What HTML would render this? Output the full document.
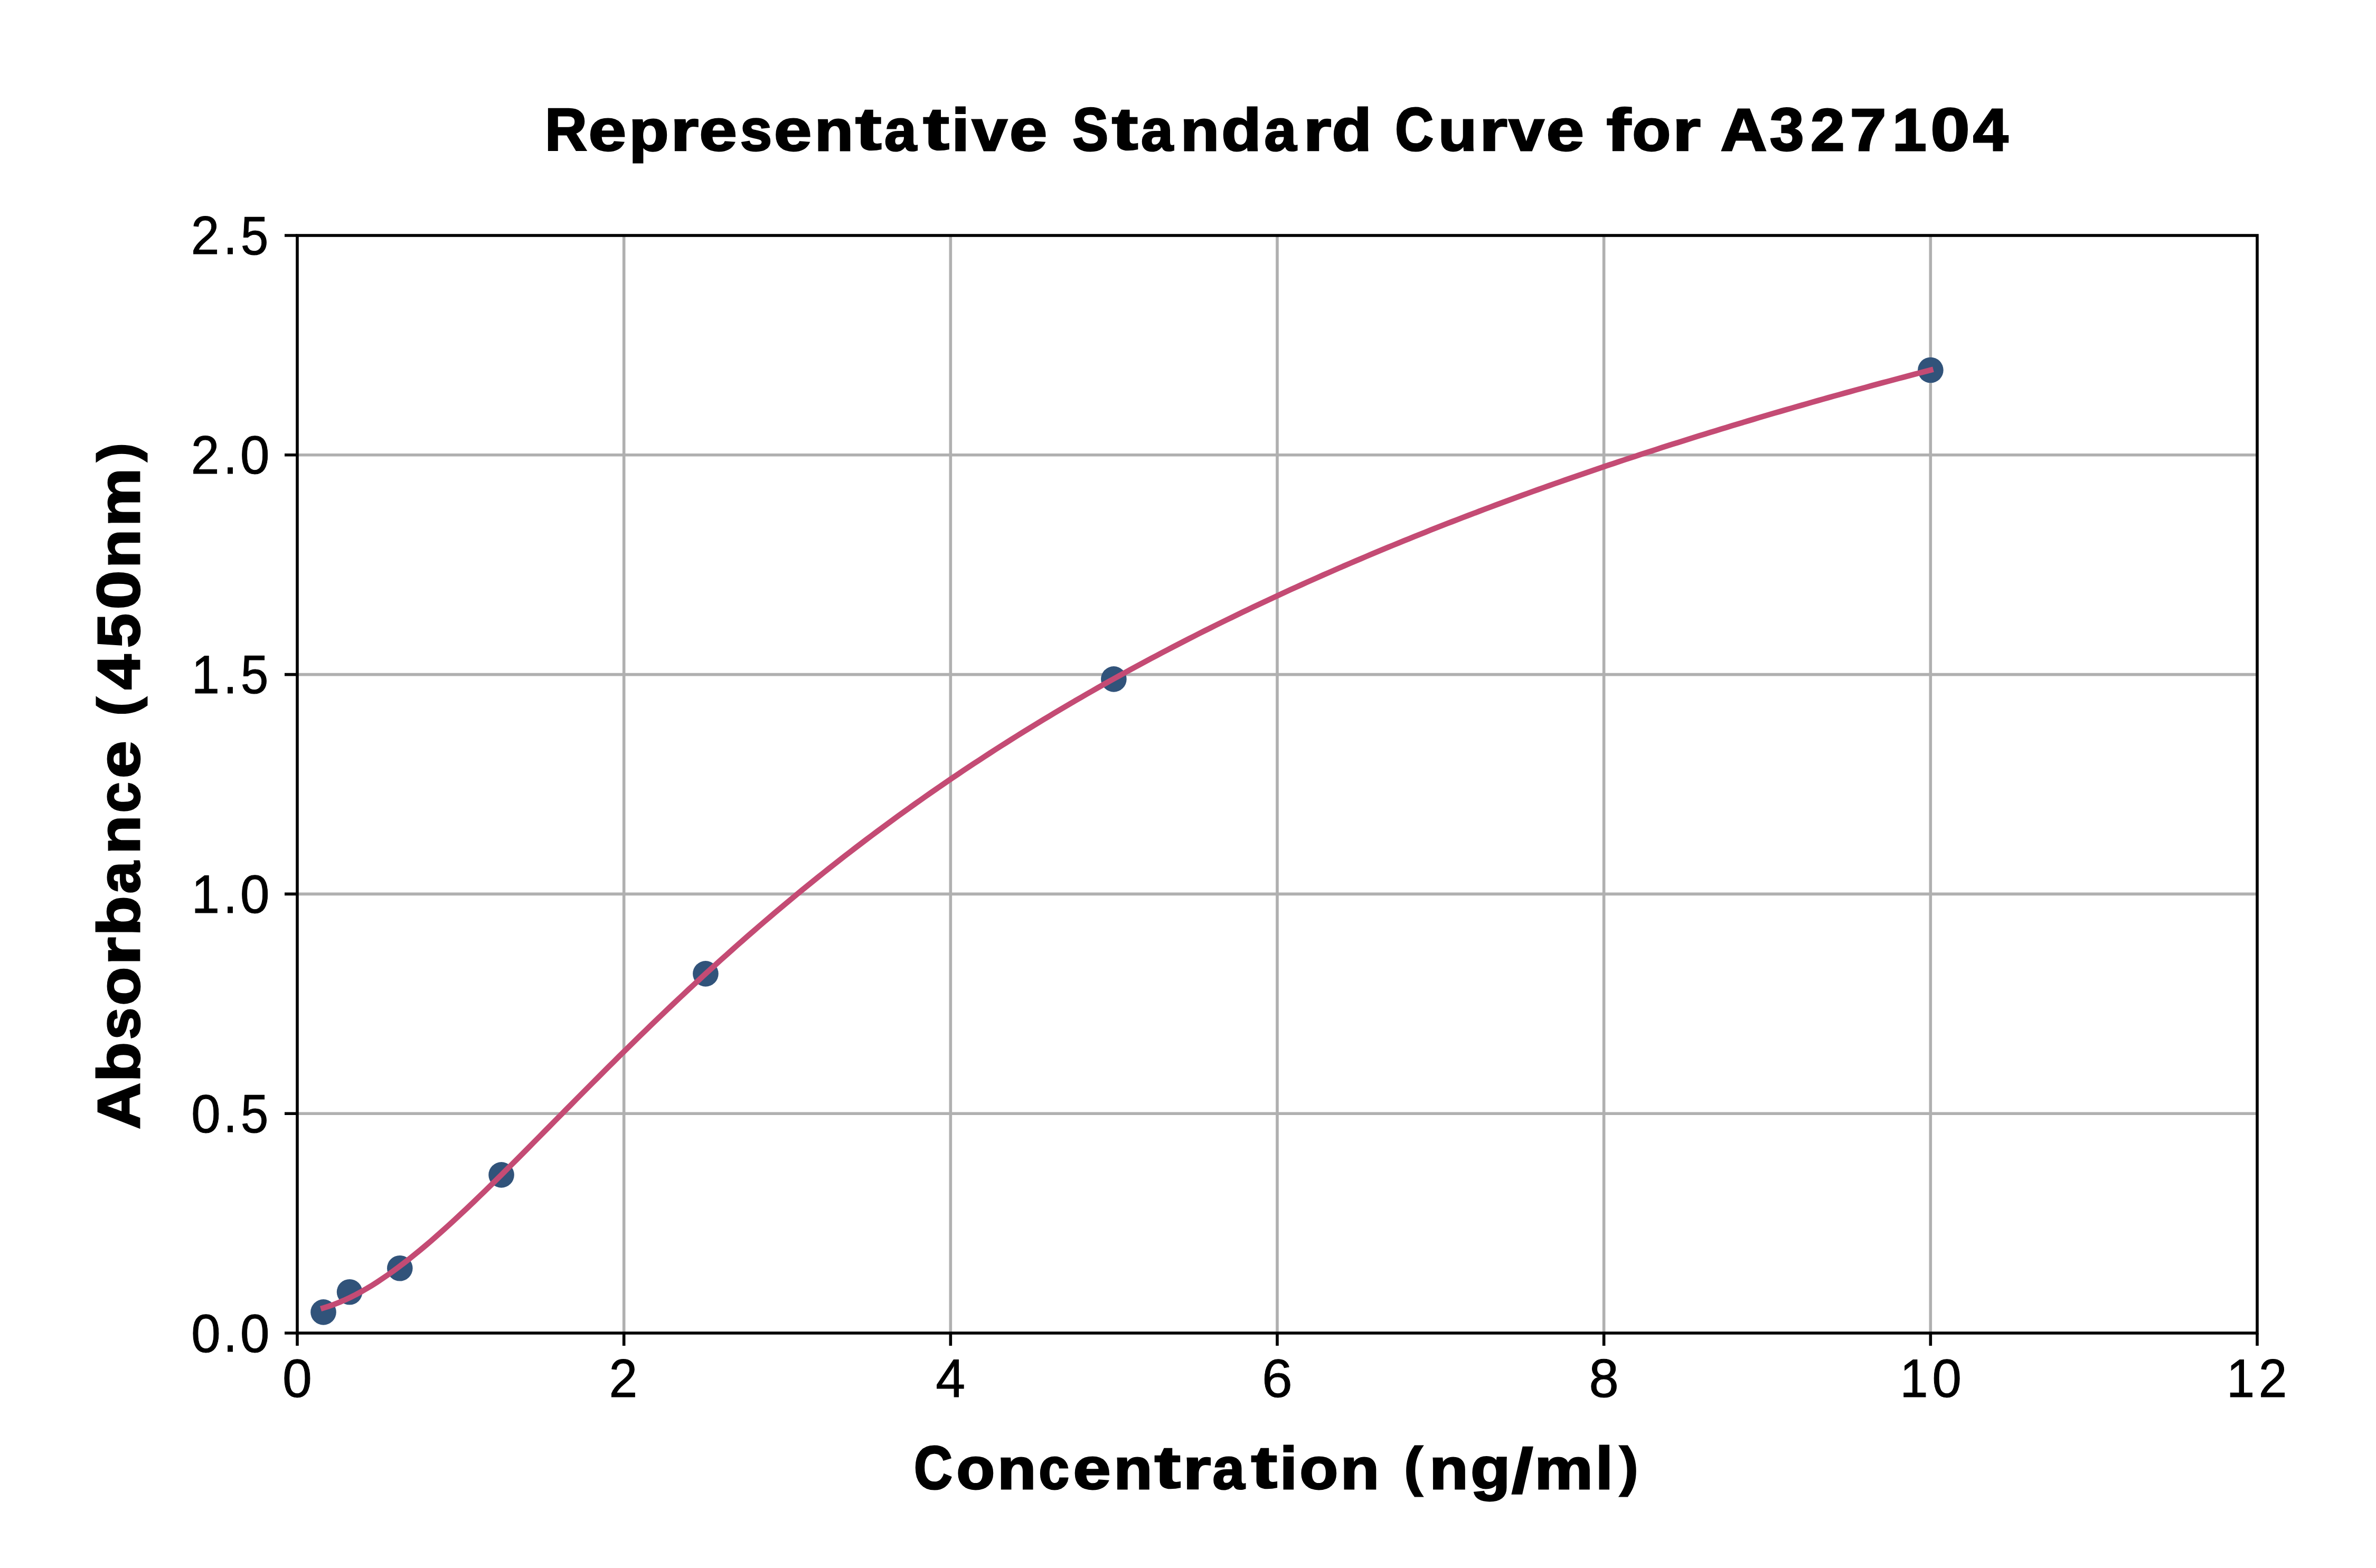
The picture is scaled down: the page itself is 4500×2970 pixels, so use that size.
<!DOCTYPE html><html><head><meta charset="utf-8"><style>html,body{margin:0;padding:0;background:#fff;}body{width:4500px;height:2970px;overflow:hidden;}svg{display:block;}text{font-family:"Liberation Sans",sans-serif;font-size:100px;fill:#000;}.b text{font-weight:bold;}</style></head><body>
<svg width="4500" height="2970" viewBox="0 0 4500 2970">
<rect x="0" y="0" width="4500" height="2970" fill="#fff"/>
<path d="M1181.67 446.00V2525.00M1800.33 446.00V2525.00M2419.00 446.00V2525.00M3037.67 446.00V2525.00M3656.33 446.00V2525.00M563.00 2109.20H4275.00M563.00 1693.40H4275.00M563.00 1277.60H4275.00M563.00 861.80H4275.00" stroke="#b0b0b0" stroke-width="5.60" fill="none"/>
<circle cx="612.50" cy="2485.40" r="24.30" fill="#31537a"/>
<circle cx="662.10" cy="2447.30" r="24.30" fill="#31537a"/>
<circle cx="757.30" cy="2402.30" r="24.30" fill="#31537a"/>
<circle cx="949.55" cy="2225.40" r="24.30" fill="#31537a"/>
<circle cx="1336.40" cy="1844.40" r="24.30" fill="#31537a"/>
<circle cx="2109.40" cy="1286.40" r="24.30" fill="#31537a"/>
<circle cx="3656.40" cy="701.00" r="24.30" fill="#31537a"/>
<path d="M612.50 2477.41 L622.68 2474.25 L632.86 2470.66 L643.04 2466.66 L653.22 2462.25 L663.40 2457.47 L673.58 2452.32 L683.76 2446.83 L693.94 2441.02 L704.12 2434.88 L714.30 2428.45 L724.48 2421.74 L734.66 2414.75 L744.84 2407.51 L755.02 2400.02 L765.20 2392.30 L775.38 2384.36 L785.56 2376.22 L795.74 2367.88 L805.93 2359.35 L816.11 2350.66 L826.29 2341.80 L836.47 2332.79 L846.65 2323.65 L856.83 2314.37 L867.01 2304.97 L877.19 2295.45 L887.37 2285.84 L897.55 2276.12 L907.73 2266.33 L917.91 2256.45 L928.09 2246.50 L938.27 2236.49 L948.45 2226.42 L958.63 2216.30 L968.81 2206.13 L978.99 2195.93 L989.17 2185.69 L999.35 2175.43 L1009.53 2165.15 L1019.71 2154.85 L1029.89 2144.54 L1040.07 2134.22 L1050.25 2123.90 L1060.43 2113.58 L1070.61 2103.26 L1080.79 2092.96 L1090.97 2082.66 L1101.15 2072.38 L1111.33 2062.12 L1121.51 2051.88 L1131.69 2041.67 L1141.87 2031.48 L1152.05 2021.32 L1162.23 2011.19 L1172.41 2001.10 L1182.59 1991.04 L1192.78 1981.02 L1202.96 1971.04 L1213.14 1961.10 L1223.32 1951.20 L1233.50 1941.35 L1243.68 1931.54 L1253.86 1921.78 L1264.04 1912.06 L1274.22 1902.40 L1284.40 1892.78 L1294.58 1883.21 L1304.76 1873.69 L1314.94 1864.23 L1325.12 1854.82 L1335.30 1845.46 L1345.48 1836.15 L1355.66 1826.90 L1365.84 1817.70 L1376.02 1808.56 L1386.20 1799.47 L1396.38 1790.44 L1406.56 1781.46 L1416.74 1772.54 L1426.92 1763.67 L1437.10 1754.86 L1447.28 1746.11 L1457.46 1737.41 L1467.64 1728.76 L1477.82 1720.18 L1488.00 1711.65 L1498.18 1703.17 L1508.36 1694.75 L1518.54 1686.39 L1528.72 1678.08 L1538.90 1669.82 L1549.08 1661.62 L1559.26 1653.48 L1569.45 1645.39 L1579.63 1637.35 L1589.81 1629.37 L1599.99 1621.44 L1610.17 1613.57 L1620.35 1605.75 L1630.53 1597.98 L1640.71 1590.26 L1650.89 1582.60 L1661.07 1574.99 L1671.25 1567.43 L1681.43 1559.92 L1691.61 1552.46 L1701.79 1545.05 L1711.97 1537.70 L1722.15 1530.39 L1732.33 1523.13 L1742.51 1515.92 L1752.69 1508.77 L1762.87 1501.65 L1773.05 1494.59 L1783.23 1487.58 L1793.41 1480.61 L1803.59 1473.69 L1813.77 1466.81 L1823.95 1459.98 L1834.13 1453.20 L1844.31 1446.46 L1854.49 1439.77 L1864.67 1433.12 L1874.85 1426.52 L1885.03 1419.96 L1895.21 1413.44 L1905.39 1406.97 L1915.57 1400.54 L1925.75 1394.15 L1935.93 1387.81 L1946.12 1381.50 L1956.30 1375.24 L1966.48 1369.02 L1976.66 1362.84 L1986.84 1356.70 L1997.02 1350.60 L2007.20 1344.53 L2017.38 1338.51 L2027.56 1332.53 L2037.74 1326.58 L2047.92 1320.68 L2058.10 1314.81 L2068.28 1308.97 L2078.46 1303.18 L2088.64 1297.42 L2098.82 1291.70 L2109.00 1286.01 L2119.18 1280.36 L2129.36 1274.75 L2139.54 1269.17 L2149.72 1263.62 L2159.90 1258.11 L2170.08 1252.64 L2180.26 1247.19 L2190.44 1241.78 L2200.62 1236.41 L2210.80 1231.06 L2220.98 1225.75 L2231.16 1220.48 L2241.34 1215.23 L2251.52 1210.02 L2261.70 1204.83 L2271.88 1199.68 L2282.06 1194.56 L2292.24 1189.47 L2302.42 1184.41 L2312.60 1179.38 L2322.78 1174.38 L2332.97 1169.41 L2343.15 1164.47 L2353.33 1159.55 L2363.51 1154.67 L2373.69 1149.81 L2383.87 1144.99 L2394.05 1140.19 L2404.23 1135.41 L2414.41 1130.67 L2424.59 1125.95 L2434.77 1121.26 L2444.95 1116.60 L2455.13 1111.96 L2465.31 1107.35 L2475.49 1102.77 L2485.67 1098.21 L2495.85 1093.67 L2506.03 1089.17 L2516.21 1084.68 L2526.39 1080.22 L2536.57 1075.79 L2546.75 1071.38 L2556.93 1067.00 L2567.11 1062.63 L2577.29 1058.30 L2587.47 1053.98 L2597.65 1049.69 L2607.83 1045.43 L2618.01 1041.18 L2628.19 1036.96 L2638.37 1032.76 L2648.55 1028.59 L2658.73 1024.43 L2668.91 1020.30 L2679.09 1016.19 L2689.27 1012.10 L2699.45 1008.03 L2709.64 1003.99 L2719.82 999.96 L2730.00 995.96 L2740.18 991.98 L2750.36 988.01 L2760.54 984.07 L2770.72 980.15 L2780.90 976.25 L2791.08 972.37 L2801.26 968.50 L2811.44 964.66 L2821.62 960.84 L2831.80 957.04 L2841.98 953.25 L2852.16 949.49 L2862.34 945.74 L2872.52 942.01 L2882.70 938.30 L2892.88 934.61 L2903.06 930.93 L2913.24 927.28 L2923.42 923.64 L2933.60 920.02 L2943.78 916.42 L2953.96 912.84 L2964.14 909.27 L2974.32 905.72 L2984.50 902.19 L2994.68 898.67 L3004.86 895.17 L3015.04 891.69 L3025.22 888.22 L3035.40 884.77 L3045.58 881.34 L3055.76 877.92 L3065.94 874.52 L3076.12 871.13 L3086.31 867.76 L3096.49 864.41 L3106.67 861.07 L3116.85 857.75 L3127.03 854.44 L3137.21 851.15 L3147.39 847.87 L3157.57 844.61 L3167.75 841.36 L3177.93 838.13 L3188.11 834.91 L3198.29 831.71 L3208.47 828.52 L3218.65 825.34 L3228.83 822.18 L3239.01 819.03 L3249.19 815.90 L3259.37 812.78 L3269.55 809.68 L3279.73 806.58 L3289.91 803.51 L3300.09 800.44 L3310.27 797.39 L3320.45 794.35 L3330.63 791.33 L3340.81 788.31 L3350.99 785.32 L3361.17 782.33 L3371.35 779.36 L3381.53 776.40 L3391.71 773.45 L3401.89 770.51 L3412.07 767.59 L3422.25 764.68 L3432.43 761.78 L3442.61 758.90 L3452.79 756.02 L3462.97 753.16 L3473.16 750.31 L3483.34 747.47 L3493.52 744.65 L3503.70 741.83 L3513.88 739.03 L3524.06 736.24 L3534.24 733.46 L3544.42 730.69 L3554.60 727.93 L3564.78 725.18 L3574.96 722.45 L3585.14 719.72 L3595.32 717.01 L3605.50 714.31 L3615.68 711.62 L3625.86 708.94 L3636.04 706.27 L3646.22 703.61 L3656.40 700.96" stroke="#c44b74" stroke-width="10.50" fill="none" stroke-linecap="square" stroke-linejoin="round"/>
<rect x="563.00" y="446.00" width="3712.00" height="2079.00" fill="none" stroke="#000" stroke-width="5.60"/>
<path d="M563.00 2525.00V2549.00M1181.67 2525.00V2549.00M1800.33 2525.00V2549.00M2419.00 2525.00V2549.00M3037.67 2525.00V2549.00M3656.33 2525.00V2549.00M4275.00 2525.00V2549.00M539.00 2525.00H563.00M539.00 2109.20H563.00M539.00 1693.40H563.00M539.00 1277.60H563.00M539.00 861.80H563.00M539.00 446.00H563.00" stroke="#000" stroke-width="5.60" fill="none"/>
<g>
<text transform="matrix(1.00416 0 0 1.02399 535.07 2646.34)" stroke="#000" stroke-width="0.99">0</text>
<text transform="matrix(0.96519 0 0 1.01916 1153.51 2646.00)" stroke="#000" stroke-width="1.01">2</text>
<text transform="matrix(1.00444 0 0 1.01560 1772.36 2646.00)" stroke="#000" stroke-width="0.99">4</text>
<text transform="matrix(1.03908 0 0 1.02399 2390.08 2646.34)" stroke="#000" stroke-width="0.97">6</text>
<text transform="matrix(1.01298 0 0 1.02399 3009.49 2646.34)" stroke="#000" stroke-width="0.98">8</text>
<text transform="matrix(0.95577 0 0 1.01560 3598.41 2646.00)" stroke="#000" stroke-width="1.01">1</text>
<text transform="matrix(1.00416 0 0 1.02399 3659.33 2646.34)" stroke="#000" stroke-width="0.99">0</text>
<text transform="matrix(0.95577 0 0 1.01560 4217.08 2646.00)" stroke="#000" stroke-width="1.01">1</text>
<text transform="matrix(0.96519 0 0 1.01916 4277.77 2646.00)" stroke="#000" stroke-width="1.01">2</text>
<text transform="matrix(1.00416 0 0 1.02399 361.89 2560.54)" stroke="#000" stroke-width="0.99">0</text>
<text transform="matrix(0.93892 0 0 1.03320 423.10 2560.20)" stroke="#000" stroke-width="1.02">.</text>
<text transform="matrix(1.00416 0 0 1.02399 454.65 2560.54)" stroke="#000" stroke-width="0.99">0</text>
<text transform="matrix(1.00416 0 0 1.02399 361.89 2144.74)" stroke="#000" stroke-width="0.99">0</text>
<text transform="matrix(0.93892 0 0 1.03320 423.10 2144.40)" stroke="#000" stroke-width="1.02">.</text>
<text transform="matrix(0.94700 0 0 1.02055 455.84 2144.74)" stroke="#000" stroke-width="1.02">5</text>
<text transform="matrix(0.95577 0 0 1.01560 362.82 1728.60)" stroke="#000" stroke-width="1.01">1</text>
<text transform="matrix(0.93892 0 0 1.03320 423.10 1728.60)" stroke="#000" stroke-width="1.02">.</text>
<text transform="matrix(1.00416 0 0 1.02399 454.65 1728.94)" stroke="#000" stroke-width="0.99">0</text>
<text transform="matrix(0.95577 0 0 1.01560 362.82 1312.80)" stroke="#000" stroke-width="1.01">1</text>
<text transform="matrix(0.93892 0 0 1.03320 423.10 1312.80)" stroke="#000" stroke-width="1.02">.</text>
<text transform="matrix(0.94700 0 0 1.02055 455.84 1313.14)" stroke="#000" stroke-width="1.02">5</text>
<text transform="matrix(0.96519 0 0 1.01916 361.66 897.00)" stroke="#000" stroke-width="1.01">2</text>
<text transform="matrix(0.93892 0 0 1.03320 423.10 897.00)" stroke="#000" stroke-width="1.02">.</text>
<text transform="matrix(1.00416 0 0 1.02399 454.65 897.34)" stroke="#000" stroke-width="0.99">0</text>
<text transform="matrix(0.96519 0 0 1.01916 361.66 481.20)" stroke="#000" stroke-width="1.01">2</text>
<text transform="matrix(0.93892 0 0 1.03320 423.10 481.20)" stroke="#000" stroke-width="1.02">.</text>
<text transform="matrix(0.94700 0 0 1.02055 455.84 481.54)" stroke="#000" stroke-width="1.02">5</text>
</g><g class="b">
<text transform="matrix(1.10584 0 0 1.13371 1032.01 284.50)" stroke="#000" stroke-width="2.68">R</text>
<text transform="matrix(1.28823 0 0 1.10907 1114.50 284.95)" stroke="#000" stroke-width="2.51">e</text>
<text transform="matrix(1.23455 0 0 1.10070 1191.29 284.72)" stroke="#000" stroke-width="2.57">p</text>
<text transform="matrix(1.36723 0 0 1.09873 1269.95 284.50)" stroke="#000" stroke-width="2.45">r</text>
<text transform="matrix(1.28823 0 0 1.10907 1324.19 284.95)" stroke="#000" stroke-width="2.51">e</text>
<text transform="matrix(1.08564 0 0 1.10705 1401.77 284.95)" stroke="#000" stroke-width="2.74">s</text>
<text transform="matrix(1.28823 0 0 1.10907 1465.69 284.95)" stroke="#000" stroke-width="2.51">e</text>
<text transform="matrix(1.20312 0 0 1.09873 1542.68 284.50)" stroke="#000" stroke-width="2.61">n</text>
<text transform="matrix(1.49225 0 0 1.13463 1620.04 283.48)" stroke="#000" stroke-width="2.31">t</text>
<text transform="matrix(1.09445 0 0 1.10907 1675.11 284.95)" stroke="#000" stroke-width="2.72">a</text>
<text transform="matrix(1.49225 0 0 1.13463 1748.14 283.48)" stroke="#000" stroke-width="2.31">t</text>
<text transform="matrix(1.20031 0 0 1.12336 1802.53 284.50)" stroke="#000" stroke-width="2.58">i</text>
<text transform="matrix(1.20639 0 0 1.09426 1840.87 284.50)" stroke="#000" stroke-width="2.61">v</text>
<text transform="matrix(1.28823 0 0 1.10907 1911.86 284.95)" stroke="#000" stroke-width="2.51">e</text>
<text transform="matrix(1.01650 0 0 1.14406 2031.20 284.91)" stroke="#000" stroke-width="2.78">S</text>
<text transform="matrix(1.49225 0 0 1.13463 2105.83 283.48)" stroke="#000" stroke-width="2.31">t</text>
<text transform="matrix(1.09445 0 0 1.10907 2160.89 284.95)" stroke="#000" stroke-width="2.72">a</text>
<text transform="matrix(1.20312 0 0 1.09873 2235.66 284.50)" stroke="#000" stroke-width="2.61">n</text>
<text transform="matrix(1.23455 0 0 1.12924 2313.31 284.93)" stroke="#000" stroke-width="2.54">d</text>
<text transform="matrix(1.09445 0 0 1.10907 2394.51 284.95)" stroke="#000" stroke-width="2.72">a</text>
<text transform="matrix(1.36723 0 0 1.09873 2468.19 284.50)" stroke="#000" stroke-width="2.45">r</text>
<text transform="matrix(1.23455 0 0 1.12924 2522.62 284.93)" stroke="#000" stroke-width="2.54">d</text>
<text transform="matrix(1.00746 0 0 1.14406 2642.32 284.91)" stroke="#000" stroke-width="2.79">C</text>
<text transform="matrix(1.20312 0 0 1.10284 2723.65 284.95)" stroke="#000" stroke-width="2.60">u</text>
<text transform="matrix(1.36723 0 0 1.09873 2801.85 284.50)" stroke="#000" stroke-width="2.45">r</text>
<text transform="matrix(1.20639 0 0 1.09426 2857.52 284.50)" stroke="#000" stroke-width="2.61">v</text>
<text transform="matrix(1.28823 0 0 1.10907 2928.52 284.95)" stroke="#000" stroke-width="2.51">e</text>
<text transform="matrix(1.39062 0 0 1.12336 3042.55 284.50)" stroke="#000" stroke-width="2.40">f</text>
<text transform="matrix(1.19657 0 0 1.10907 3091.25 284.95)" stroke="#000" stroke-width="2.60">o</text>
<text transform="matrix(1.36723 0 0 1.09873 3167.79 284.50)" stroke="#000" stroke-width="2.45">r</text>
<text transform="matrix(1.22039 0 0 1.13371 3258.46 284.50)" stroke="#000" stroke-width="2.55">A</text>
<text transform="matrix(1.16699 0 0 1.14244 3351.71 284.80)" stroke="#000" stroke-width="2.60">3</text>
<text transform="matrix(1.16192 0 0 1.13816 3428.97 284.50)" stroke="#000" stroke-width="2.61">2</text>
<text transform="matrix(1.23666 0 0 1.13371 3503.69 284.50)" stroke="#000" stroke-width="2.53">7</text>
<text transform="matrix(1.16367 0 0 1.13371 3584.10 284.50)" stroke="#000" stroke-width="2.61">1</text>
<text transform="matrix(1.34034 0 0 1.14406 3656.16 284.91)" stroke="#000" stroke-width="2.42">0</text>
<text transform="matrix(1.19816 0 0 1.13371 3736.70 284.50)" stroke="#000" stroke-width="2.57">4</text>
<text transform="matrix(1.00746 0 0 1.14406 1731.05 2819.91)" stroke="#000" stroke-width="2.79">C</text>
<text transform="matrix(1.19657 0 0 1.10907 1811.28 2819.95)" stroke="#000" stroke-width="2.60">o</text>
<text transform="matrix(1.20312 0 0 1.09873 1888.89 2819.50)" stroke="#000" stroke-width="2.61">n</text>
<text transform="matrix(1.03824 0 0 1.10907 1967.33 2819.95)" stroke="#000" stroke-width="2.80">c</text>
<text transform="matrix(1.28823 0 0 1.10907 2032.22 2819.95)" stroke="#000" stroke-width="2.51">e</text>
<text transform="matrix(1.20312 0 0 1.09873 2109.22 2819.50)" stroke="#000" stroke-width="2.61">n</text>
<text transform="matrix(1.49225 0 0 1.13463 2186.58 2818.48)" stroke="#000" stroke-width="2.31">t</text>
<text transform="matrix(1.36723 0 0 1.09873 2240.35 2819.50)" stroke="#000" stroke-width="2.45">r</text>
<text transform="matrix(1.09445 0 0 1.10907 2296.44 2819.95)" stroke="#000" stroke-width="2.72">a</text>
<text transform="matrix(1.49225 0 0 1.13463 2369.47 2818.48)" stroke="#000" stroke-width="2.31">t</text>
<text transform="matrix(1.20031 0 0 1.12336 2423.86 2819.50)" stroke="#000" stroke-width="2.58">i</text>
<text transform="matrix(1.19657 0 0 1.10907 2461.13 2819.95)" stroke="#000" stroke-width="2.60">o</text>
<text transform="matrix(1.20312 0 0 1.09873 2538.74 2819.50)" stroke="#000" stroke-width="2.61">n</text>
<text transform="matrix(1.04018 0 0 1.02893 2659.49 2812.76)" stroke="#000" stroke-width="2.90">(</text>
<text transform="matrix(1.20312 0 0 1.09873 2707.31 2819.50)" stroke="#000" stroke-width="2.61">n</text>
<text transform="matrix(1.23701 0 0 1.10666 2784.94 2820.04)" stroke="#000" stroke-width="2.56">g</text>
<text transform="matrix(1.45563 0 0 1.18567 2863.09 2827.46)" stroke="#000" stroke-width="2.28">/</text>
<text transform="matrix(1.24542 0 0 1.09873 2906.13 2819.50)" stroke="#000" stroke-width="2.56">m</text>
<text transform="matrix(1.20031 0 0 1.12336 3021.84 2819.50)" stroke="#000" stroke-width="2.58">l</text>
<text transform="matrix(1.04018 0 0 1.02893 3067.78 2812.76)" stroke="#000" stroke-width="2.90">)</text>
<g transform="translate(265.50 1485.60) rotate(-90)">
<text transform="matrix(1.22039 0 0 1.13371 -653.34 -1.50)" stroke="#000" stroke-width="2.55">A</text>
<text transform="matrix(1.23455 0 0 1.12924 -563.66 -1.07)" stroke="#000" stroke-width="2.54">b</text>
<text transform="matrix(1.08564 0 0 1.10705 -483.34 -1.05)" stroke="#000" stroke-width="2.74">s</text>
<text transform="matrix(1.19657 0 0 1.10907 -419.07 -1.05)" stroke="#000" stroke-width="2.60">o</text>
<text transform="matrix(1.36723 0 0 1.09873 -342.54 -1.50)" stroke="#000" stroke-width="2.45">r</text>
<text transform="matrix(1.23455 0 0 1.12924 -286.86 -1.07)" stroke="#000" stroke-width="2.54">b</text>
<text transform="matrix(1.09445 0 0 1.10907 -206.91 -1.05)" stroke="#000" stroke-width="2.72">a</text>
<text transform="matrix(1.20312 0 0 1.09873 -132.14 -1.50)" stroke="#000" stroke-width="2.61">n</text>
<text transform="matrix(1.03824 0 0 1.10907 -53.70 -1.05)" stroke="#000" stroke-width="2.80">c</text>
<text transform="matrix(1.28823 0 0 1.10907 11.18 -1.05)" stroke="#000" stroke-width="2.51">e</text>
<text transform="matrix(1.04018 0 0 1.02893 129.82 -8.24)" stroke="#000" stroke-width="2.90">(</text>
<text transform="matrix(1.19816 0 0 1.13371 179.45 -1.50)" stroke="#000" stroke-width="2.57">4</text>
<text transform="matrix(1.16699 0 0 1.13975 258.50 -1.08)" stroke="#000" stroke-width="2.60">5</text>
<text transform="matrix(1.34034 0 0 1.14406 330.84 -1.09)" stroke="#000" stroke-width="2.42">0</text>
<text transform="matrix(1.20312 0 0 1.09873 409.57 -1.50)" stroke="#000" stroke-width="2.61">n</text>
<text transform="matrix(1.24542 0 0 1.09873 488.28 -1.50)" stroke="#000" stroke-width="2.56">m</text>
<text transform="matrix(1.04018 0 0 1.02893 611.84 -8.24)" stroke="#000" stroke-width="2.90">)</text>
</g></g>
</svg></body></html>
